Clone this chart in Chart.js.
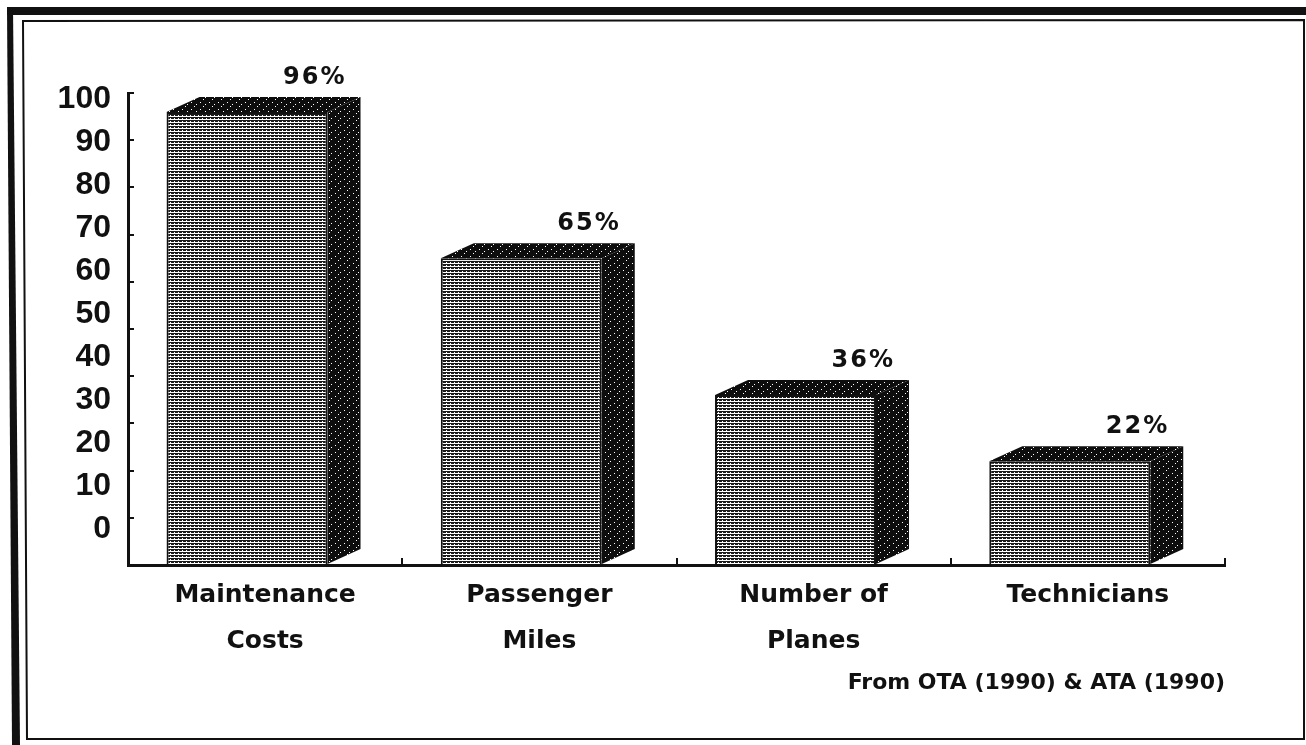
<!DOCTYPE html>
<html>
<head>
<meta charset="utf-8">
<script src="https://cdn.jsdelivr.net/npm/chart.js@4.4.1/dist/chart.umd.min.js"></script>
<style>
  body { margin: 0; background: #fff; }
  canvas { display: block; }
</style>
</head>
<body>
<canvas id="planes" width="1306" height="745"></canvas>
<script>
var categories = [['Maintenance', 'Costs'], ['Passenger', 'Miles'], ['Number of', 'Planes'], ['Technicians']];
var percentValues = [96, 65, 36, 22];
var yTickLabels = [100, 90, 80, 70, 60, 50, 40, 30, 20, 10, 0];
var sourceNote = 'From OTA (1990) & ATA (1990)';

var ink = '#111';

// little tiles to fake the scanned screen tones
function makePattern(rows, dark, light) {
  var c = document.createElement('canvas');
  c.width = rows[0].length;
  c.height = rows.length;
  var g = c.getContext('2d');
  for (var r = 0; r < rows.length; r++) {
    for (var k = 0; k < rows[r].length; k++) {
      g.fillStyle = rows[r][k] === '#' ? dark : light;
      g.fillRect(k, r, 1, 1);
    }
  }
  return g.createPattern(c, 'repeat');
}
var frontFill = makePattern(['####', '##.#', '....'], '#1a1a1a', '#fff');
var darkFill = makePattern([
  '#########',
  '#####.###',
  '#########',
  '#########',
  '##.######',
  '#########',
  '#######.#'
], '#0d0d0d', '#fff');

const box3d = {
  id: 'box3d',
  beforeDraw: function (chart) {
    var ctx = chart.ctx;
    ctx.save();
    ctx.fillStyle = '#fff';
    ctx.fillRect(0, 0, chart.width, chart.height);
    // scanned page frame
    ctx.fillStyle = ink;
    ctx.fillRect(7, 7, chart.width - 7, 8);
    ctx.beginPath();
    ctx.moveTo(7, 7); ctx.lineTo(13, 7); ctx.lineTo(20, chart.height); ctx.lineTo(12, chart.height);
    ctx.closePath();
    ctx.fill();
    ctx.strokeStyle = ink;
    ctx.lineWidth = 2;
    ctx.beginPath();
    ctx.moveTo(23, 21); ctx.lineTo(1304, 20); ctx.lineTo(1304, 739); ctx.lineTo(27, 739);
    ctx.closePath();
    ctx.stroke();
    ctx.restore();
  },
  afterDatasetsDraw: function (chart) {
    var ctx = chart.ctx;
    var dx = 33, dy = 15;
    var meta = chart.getDatasetMeta(0);
    meta.data.forEach(function (bar, i) {
      var p = bar.getProps(['x', 'y', 'base', 'width'], true);
      var l = p.x - p.width / 2, r = p.x + p.width / 2;
      ctx.save();
      ctx.fillStyle = darkFill;
      ctx.beginPath();
      ctx.moveTo(l, p.y); ctx.lineTo(l + dx, p.y - dy); ctx.lineTo(r + dx, p.y - dy); ctx.lineTo(r, p.y);
      ctx.closePath();
      ctx.fill();
      ctx.beginPath();
      ctx.moveTo(r, p.y); ctx.lineTo(r + dx, p.y - dy); ctx.lineTo(r + dx, p.base - dy); ctx.lineTo(r, p.base);
      ctx.closePath();
      ctx.fill();
      ctx.fillStyle = ink;
      ctx.font = 'bold 24px "DejaVu Sans"';
      ctx.letterSpacing = '2px';
      ctx.textAlign = 'right';
      ctx.textBaseline = 'middle';
      ctx.fillText(percentValues[i] + '%', r + dx - 14, p.y - dy - 19);
      ctx.restore();
    });
  }
};

var ctx_planes = document.getElementById('planes');
var planes = new Chart(ctx_planes, {
  type: 'bar',
  data: {
    labels: categories,
    datasets: [
      {
        label: 'Percent',
        xAxisID: 'xb',
        yAxisID: 'y',
        data: percentValues.map(function (v, i) { return { x: i, y: v }; }),
        backgroundColor: frontFill,
        borderColor: ink,
        borderWidth: 2,
        categoryPercentage: 1,
        barPercentage: 0.587
      }
    ]
  },
  options: {
    responsive: false,
    animation: false,
    layout: {
      padding: { top: 93, right: 81, bottom: 0, left: 0 }
    },
    plugins: {
      legend: { display: false },
      tooltip: { enabled: false },
      title: {
        display: true,
        text: sourceNote,
        position: 'bottom',
        align: 'end',
        color: ink,
        font: { family: '"DejaVu Sans"', weight: 'bold', size: 22 },
        padding: { top: 0, bottom: 49 }
      }
    },
    scales: {
      x: {
        type: 'category',
        offset: true,
        afterFit: function (s) { s.height = 104.6; },
        grid: { offset: true, drawOnChartArea: false, tickLength: -7, color: ink, lineWidth: 2 },
        border: { color: ink, width: 3 },
        ticks: {
          color: ink,
          padding: 14,
          maxRotation: 0,
          autoSkip: false,
          font: { family: '"DejaVu Sans"', weight: 'bold', size: 25, lineHeight: 1.85 }
        }
      },
      xb: {
        type: 'linear',
        display: false,
        offset: false,
        grid: { offset: false },
        min: -0.434,
        max: 3.566,
        afterBuildTicks: function (s) {
          s.ticks = categories.map(function (c, i) { return { value: i }; });
        }
      },
      y: {
        type: 'linear',
        position: 'left',
        weight: 0,
        min: 0,
        max: 100,
        afterFit: function (s) { s.width = 8; },
        ticks: { display: false, stepSize: 10 },
        grid: { drawOnChartArea: false, tickLength: -6, color: ink, lineWidth: 2 },
        border: { color: ink, width: 3 }
      },
      yl: {
        type: 'linear',
        position: 'left',
        weight: 1,
        min: -8.37,
        max: 101.4,
        afterFit: function (s) { s.width = 120; },
        afterBuildTicks: function (s) {
          s.ticks = yTickLabels.map(function (v) { return { value: v }; });
        },
        grid: { display: false, drawTicks: false },
        border: { display: false },
        ticks: {
          color: ink,
          padding: 9,
          font: { family: '"Liberation Sans"', weight: 'bold', size: 32 }
        }
      }
    }
  },
  plugins: [box3d]
});
</script>
</body>
</html>
